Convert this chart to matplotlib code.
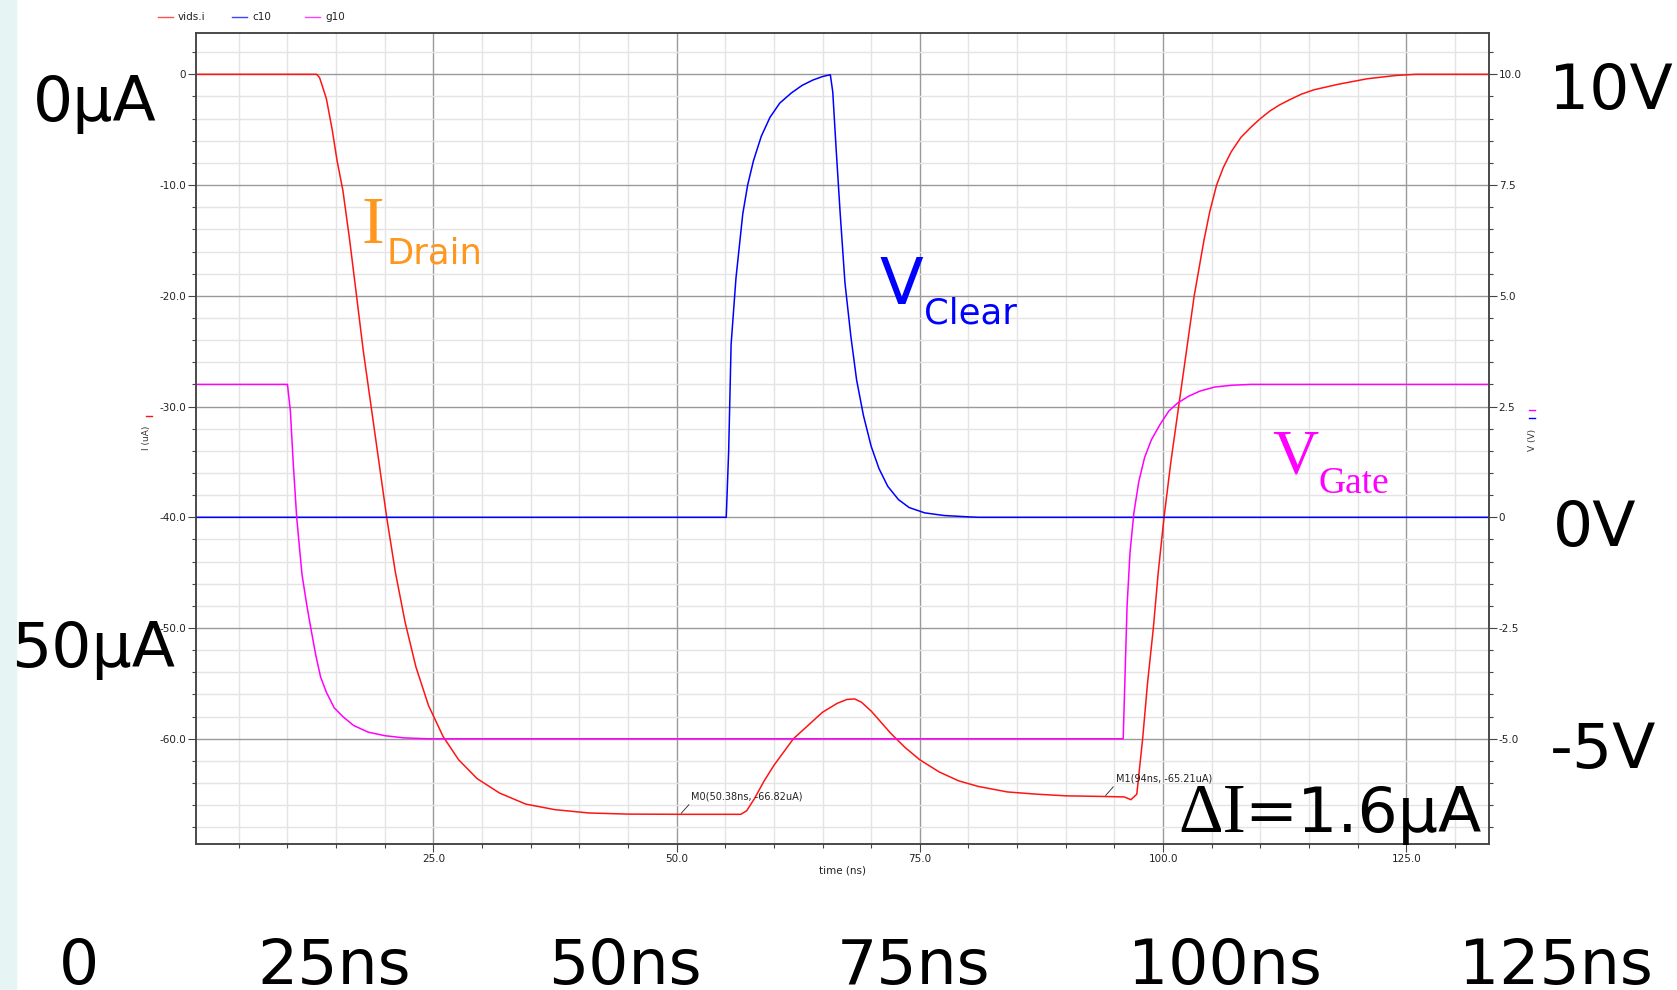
import numpy as np
import matplotlib.pyplot as plt
from matplotlib.lines import Line2D
from matplotlib.ticker import MultipleLocator, FuncFormatter

plt.rcParams['axes.unicode_minus'] = False
plt.rcParams['font.family'] = ['DejaVu Sans']

W, H = 1677, 990

# drain current vids.i (uA) vs time (ns)
t_ids = [0, 13.0, 13.3, 13.6, 14.0, 14.6, 15.1, 15.7, 16.4, 17.1, 17.8,
         18.6, 19.4, 20.2, 21.1, 22.1, 23.2, 24.5, 26.0, 27.6, 29.5,
         31.8, 34.5, 37.5, 41, 45, 50.38, 56.6, 57.2, 58.0, 59.0,
         60.0, 61.0, 62.0, 63.5, 65.0, 66.5, 67.5, 68.3, 69.0, 70.0,
         71.0, 72.0, 73.5, 75.0, 77.0, 79.0, 81.0, 84.0, 87.0, 90.0,
         94.0, 96.0, 96.7, 97.3, 97.9, 98.4, 99.0, 99.5, 100.1, 100.8,
         101.6, 102.4, 103.2, 104.2, 104.8, 105.5, 106.2, 107.0, 108.0, 109.0,
         110.0, 111.0, 112.0, 113.0, 114.2, 115.5, 118.0, 121.0, 124.0, 126.0,
         133.5]
i_ids = [0, 0, -0.3, -1.1, -2.2, -5.0, -7.8, -10.5, -15, -20, -25,
         -30, -35, -40, -45, -49.5, -53.5, -57.0, -59.8, -61.9, -63.6,
         -64.9, -65.9, -66.4, -66.7, -66.8, -66.82, -66.82, -66.5, -65.4, -63.8,
         -62.4, -61.2, -60.0, -58.8, -57.6, -56.8, -56.45, -56.4, -56.7, -57.5,
         -58.5, -59.5, -60.8, -61.9, -63.0, -63.8, -64.3, -64.8, -65.0, -65.15,
         -65.21, -65.25, -65.5, -65.0, -60.0, -55, -50, -45, -40, -35,
         -30, -25, -20, -15, -12.4, -10, -8.4, -7.0, -5.7, -4.8,
         -4.0, -3.3, -2.75, -2.3, -1.8, -1.4, -0.9, -0.4, -0.1, 0,
         0]

# clear voltage c10 (V)
t_c10 = [0, 55.1, 55.35, 55.6, 56.1, 56.8, 57.3, 57.9, 58.7, 59.6,
         60.6, 61.8, 62.9, 64.0, 65.0, 65.8, 66.05, 66.4, 66.8, 67.3,
         67.9, 68.5, 69.2, 70.0, 70.8, 71.7, 72.8, 73.9, 75.5, 77.5,
         80.0, 81.0, 133.5]
v_c10 = [0, 0, 1.5, 3.9, 5.4, 6.85, 7.5, 8.05, 8.6, 9.03,
         9.35, 9.58, 9.75, 9.87, 9.95, 9.99, 9.6, 8.3, 6.9, 5.3,
         4.1, 3.1, 2.3, 1.6, 1.1, 0.7, 0.4, 0.22, 0.1, 0.04,
         0.01, 0, 0]

# gate voltage g10 (V)
t_g10 = [0, 10.0, 10.3, 10.6, 10.95, 11.2, 11.5, 12.0, 12.4, 12.9,
         13.4, 14.0, 14.8, 15.7, 16.8, 18.3, 20.0, 22.0, 24.5, 95.9,
         96.1, 96.3, 96.6, 97.0, 97.5, 98.1, 98.8, 99.7, 100.6, 101.5,
         102.6, 103.8, 105.3, 107.0, 109.0, 133.5]
v_g10 = [3.0, 3.0, 2.4, 1.2, 0, -0.6, -1.3, -2.0, -2.5, -3.1,
         -3.6, -3.95, -4.3, -4.5, -4.7, -4.85, -4.93, -4.98, -5.0, -5.0,
         -3.5, -2.0, -0.8, 0.1, 0.8, 1.35, 1.75, 2.1, 2.4, 2.58,
         2.73, 2.85, 2.94, 2.98, 3.0, 3.0]

# markers
m_t = [50.38, 94.0]
m_i = [-66.82, -65.21]
m_names = ['M0', 'M1']

series_names = ['vids.i', 'c10', 'g10']
series_colors = ['#ff1414', '#0000ff', '#ff00ff']


def fx(x):
    return x / W


def fy(y):
    return 1 - y / H


fig = plt.figure(figsize=(W / 100, H / 100), dpi=100)
fig.patches.append(plt.Rectangle((0, 0), fx(16), 1, transform=fig.transFigure,
                                 color='#e6f4f4', zorder=0))

ax = fig.add_axes([fx(196), fy(844), fx(1489 - 196), (844 - 33) / H])
ax2 = ax.twinx()

ylo, yhi = -69.5, 3.73
ax.set_xlim(0.6, 133.5)
ax.set_ylim(ylo, yhi)
ax2.set_ylim((ylo + 40) / 4, (yhi + 40) / 4)

ax.plot(t_ids, i_ids, color=series_colors[0], lw=1.1, zorder=3)
ax2.plot(t_c10, v_c10, color=series_colors[1], lw=1.1)
ax2.plot(t_g10, v_g10, color=series_colors[2], lw=1.1)

fmt = FuncFormatter(lambda v, p: '0' if abs(v) < 1e-9 else '%.1f' % v)
ax.xaxis.set_major_locator(MultipleLocator(25))
ax.xaxis.set_minor_locator(MultipleLocator(5))
ax.yaxis.set_major_locator(MultipleLocator(10))
ax.yaxis.set_minor_locator(MultipleLocator(2))
ax2.yaxis.set_major_locator(MultipleLocator(2.5))
ax2.yaxis.set_minor_locator(MultipleLocator(0.5))
ax.xaxis.set_major_formatter(fmt)
ax.yaxis.set_major_formatter(fmt)
ax2.yaxis.set_major_formatter(fmt)

ax.grid(which='minor', color='#e4e4e4', lw=1.0)
ax.grid(which='major', color='#9a9a9a', lw=1.0)
ax.set_axisbelow(True)

for a in (ax, ax2):
    a.tick_params(which='major', length=6, width=0.8, color='#444444',
                  labelsize=7.5, labelcolor='#222222', pad=1)
    a.tick_params(which='minor', length=3, width=0.8, color='#444444')
    for s in a.spines.values():
        s.set_color('#444444')
        s.set_linewidth(1.1)

ax.set_xlabel('time (ns)', fontsize=7.5, labelpad=1, color='#222222')

# small axis titles
fig.text(fx(147), fy(438), 'I (uA)', rotation=90, fontsize=6.5, ha='center', va='center', color='#333333')
fig.add_artist(Line2D([fx(146), fx(152)], [fy(416)] * 2, color=series_colors[0], lw=1))
fig.text(fx(1532), fy(440), 'V (V)', rotation=90, fontsize=6.5, ha='center', va='center', color='#333333')
fig.add_artist(Line2D([fx(1529), fx(1535)], [fy(410)] * 2, color=series_colors[2], lw=1))
fig.add_artist(Line2D([fx(1529), fx(1535)], [fy(418)] * 2, color=series_colors[1], lw=1))

# legend row on top
leg_x = [158, 232, 305]
for x0, name, c in zip(leg_x, series_names, series_colors):
    fig.add_artist(Line2D([fx(x0), fx(x0 + 15)], [fy(17)] * 2, color=c, lw=1, alpha=0.75))
    fig.text(fx(x0 + 20), fy(17), name, fontsize=7.5, va='center', color='#222222')

# markers
for t, i, n in zip(m_t, m_i, m_names):
    ax.annotate('%s(%gns, %guA)' % (n, t, i), xy=(t, i), xytext=(8, 9),
                textcoords='offset points', fontsize=7, ha='left', va='bottom',
                color='#222222',
                arrowprops=dict(arrowstyle='-', color='#222222', lw=0.6,
                                shrinkA=0, shrinkB=1, relpos=(0, 0)))

# big overlay labels
big = 45.5
fig.text(fx(33), fy(121), '0µA', fontsize=big, va='baseline')
fig.text(fx(11), fy(667), '50µA', fontsize=big, va='baseline')
fig.text(fx(1549), fy(109), '10V', fontsize=big, va='baseline')
fig.text(fx(1553), fy(546), '0V', fontsize=big, va='baseline')
fig.text(fx(1550), fy(768), '-5V', fontsize=big, va='baseline')
fig.text(fx(1246), fy(832), 'ΔI', fontsize=50, va='baseline', ha='right',
         family='Liberation Serif')
fig.text(fx(1244), fy(832), '=1.6µA', fontsize=big, va='baseline', ha='left')

bottom_lbl = ['0', '25ns', '50ns', '75ns', '100ns', '125ns']
bottom_x = [79, 334, 625, 914, 1225, 1556]
for x0, s in zip(bottom_x, bottom_lbl):
    fig.text(fx(x0), fy(984), s, fontsize=big, va='baseline', ha='center')

# coloured signal names
fig.text(fx(362), fy(243), 'I', fontsize=49, va='baseline', color='#ff961e',
         family='Liberation Serif')
fig.text(fx(387), fy(264), 'Drain', fontsize=25.5, va='baseline', color='#ff961e')
fig.text(fx(879), fy(304), 'V', fontsize=46, va='baseline', color='#0000ff')
fig.text(fx(924), fy(324), 'Clear', fontsize=25.5, va='baseline', color='#0000ff')
fig.text(fx(1272), fy(473), 'V', fontsize=46, va='baseline', color='#ff00ff',
         family='Liberation Serif')
fig.text(fx(1319), fy(493), 'Gate', fontsize=27, va='baseline', color='#ff00ff',
         family='Liberation Serif')

fig.savefig('out.png', dpi=100)
